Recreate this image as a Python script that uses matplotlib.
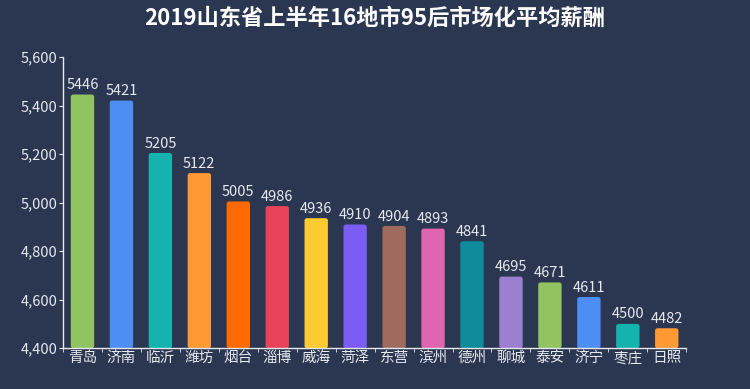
import matplotlib
matplotlib.use('Agg')
import matplotlib.pyplot as plt
from matplotlib.patches import FancyBboxPatch
from matplotlib.ticker import FuncFormatter, FixedLocator

plt.rcParams['font.family'] = ['Noto Sans CJK SC', 'DejaVu Sans']

cities = ['青岛', '济南', '临沂', '潍坊', '烟台', '淄博', '威海', '菏泽',
          '东营', '滨州', '德州', '聊城', '泰安', '济宁', '枣庄', '日照']
salary = [5446, 5421, 5205, 5122, 5005, 4986, 4936, 4910,
          4904, 4893, 4841, 4695, 4671, 4611, 4500, 4482]
colors = ['#91c461', '#4d8ef5', '#14b3ae', '#ff9933', '#ff6a00', '#e8435a',
          '#fdca31', '#7b5cf5', '#9e6a5e', '#e065b0', '#0e8c9c', '#9b7fd0',
          '#91c461', '#4d8ef5', '#14b3ae', '#ff9933']

bg = '#2b3651'
fg = '#e6e9ef'

fig = plt.figure(figsize=(7.5, 3.89), dpi=100, facecolor=bg)
ax = fig.add_axes([0.084, 0.105, 0.831, 0.748], facecolor=bg)

x = list(range(len(cities)))
bars = ax.bar(x, [s - 4400 for s in salary], bottom=4400, width=0.6, color=colors)
ax.set_xlim(-0.5, 15.5)
ax.set_ylim(4400, 5600)

# swap bars for slightly rounded ones
aspect = (1200 / 291) / (16 / 623)
for b, c in zip(bars, colors):
    b.set_visible(False)
    p = FancyBboxPatch((b.get_x(), b.get_y()), b.get_width(), b.get_height(),
                       boxstyle='round,pad=0,rounding_size=0.06',
                       mutation_aspect=aspect, facecolor=c, edgecolor='none')
    ax.add_patch(p)

for xi, s in zip(x, salary):
    ax.text(xi, s + 10, str(s), ha='center', va='bottom', color=fg, fontsize=10.5)

ax.set_xticks(x)
ax.set_xticklabels(cities, fontsize=10.5, color=fg)
ax.xaxis.set_minor_locator(FixedLocator([i - 0.5 for i in range(17)]))
ax.tick_params(axis='x', which='major', length=0, pad=2)
ax.tick_params(axis='x', which='minor', length=3, color=fg, direction='out')

ax.set_yticks(range(4400, 5601, 200))
ax.yaxis.set_major_formatter(FuncFormatter(lambda v, p: f'{int(v):,}'))
ax.tick_params(axis='y', length=3, color=fg, labelcolor=fg, labelsize=10.5, pad=1)

for side in ['top', 'right']:
    ax.spines[side].set_visible(False)
for side in ['left', 'bottom']:
    ax.spines[side].set_color(fg)
    ax.spines[side].set_linewidth(1)

fig.text(0.5, 0.952, '2019山东省上半年16地市95后市场化平均薪酬', ha='center', va='center',
         color='white', fontsize=16, fontweight='bold')

fig.savefig('out.png', dpi=100, facecolor=bg)
